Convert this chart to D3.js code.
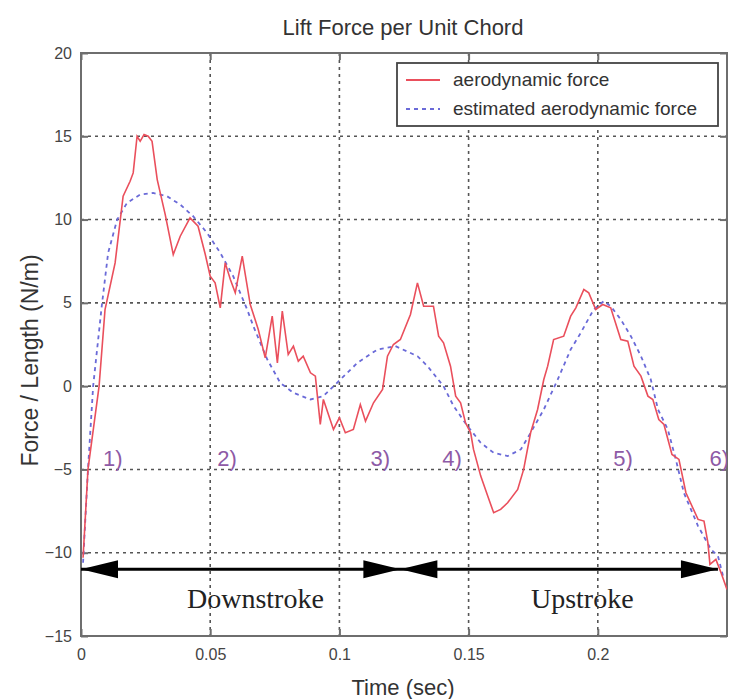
<!DOCTYPE html>
<html>
<head>
<meta charset="utf-8">
<script src="https://cdn.jsdelivr.net/npm/d3@7"></script>
<style>
  body { margin: 0; background: #fff; }
  svg text { font-family: "Liberation Sans", Arial, sans-serif; }
</style>
</head>
<body>
<div id="chart"></div>
<script>
// data ---------------------------------------------------
var aeroTime = [0.0008, 0.0027, 0.0070, 0.0093, 0.0132, 0.0163, 0.0190, 0.0202, 0.0217, 0.0229, 0.0244, 0.0260, 0.0275, 0.0295,
  0.0326, 0.0357, 0.0384, 0.0422, 0.0453, 0.0481, 0.0500, 0.0519, 0.0539, 0.0558, 0.0578, 0.0597, 0.0624, 0.0655, 0.0686,
  0.0713, 0.0740, 0.0760, 0.0779, 0.0802, 0.0822, 0.0841, 0.0860, 0.0888, 0.0907, 0.0926, 0.0938, 0.0977, 0.1000, 0.1023,
  0.1054, 0.1081, 0.1101, 0.1132, 0.1167, 0.1186, 0.1209, 0.1236, 0.1275, 0.1302, 0.1326, 0.1364, 0.1384, 0.1403, 0.1430,
  0.1450, 0.1469, 0.1488, 0.1508, 0.1519, 0.1547, 0.1574, 0.1597, 0.1624, 0.1651, 0.1690, 0.1713, 0.1740, 0.1767, 0.1791,
  0.1806, 0.1829, 0.1868, 0.1895, 0.1915, 0.1946, 0.1965, 0.1992, 0.2019, 0.2050, 0.2089, 0.2116, 0.2140, 0.2167, 0.2194,
  0.2213, 0.2236, 0.2256, 0.2287, 0.2314, 0.2341, 0.2388, 0.2411, 0.2426, 0.2434, 0.2457, 0.2477, 0.2500];
var aeroForce = [-10.3, -5.0, 0.0, 4.6, 7.4, 11.4, 12.3, 12.8, 15.0, 14.7, 15.1, 15.0, 14.7, 12.4,
  10.3, 7.9, 9.0, 10.1, 9.6, 7.9, 6.6, 6.2, 4.7, 7.4, 6.4, 5.6, 7.8, 4.9, 3.4,
  1.7, 4.2, 1.4, 4.5, 1.9, 2.4, 1.5, 1.8, 0.8, 0.6, -2.3, -0.8, -2.6, -1.9, -2.8,
  -2.6, -1.1, -2.1, -1.0, -0.2, 1.8, 2.5, 2.8, 4.3, 6.2, 4.8, 4.8, 3.0, 2.6, 1.2,
  -0.6, -1.0, -2.2, -2.8, -3.8, -5.4, -6.6, -7.6, -7.4, -7.0, -6.2, -5.0, -2.8, -1.4, 0.4,
  1.2, 2.8, 3.0, 4.2, 4.7, 5.8, 5.6, 4.6, 4.9, 4.7, 2.8, 2.7, 1.2, 0.6, -0.6,
  -0.8, -2.0, -2.3, -4.1, -4.4, -6.4, -8.0, -8.1, -9.4, -10.7, -10.4, -11.2, -12.2];

var estTime = [0.0008, 0.0027, 0.0047, 0.0081, 0.0105, 0.0140, 0.0178, 0.0229, 0.0279, 0.0333, 0.0384, 0.0434, 0.0488,
  0.0539, 0.0589, 0.0643, 0.0667, 0.0721, 0.0771, 0.0822, 0.0888, 0.0938, 0.1004, 0.1070, 0.1147, 0.1217, 0.1302,
  0.1341, 0.1403, 0.1442, 0.1496, 0.1547, 0.1597, 0.1651, 0.1702, 0.1740, 0.1791, 0.1845, 0.1895, 0.1934, 0.1984,
  0.2023, 0.2050, 0.2089, 0.2128, 0.2167, 0.2205, 0.2233, 0.2271, 0.2302, 0.2333, 0.2388, 0.2438, 0.2465, 0.2488];
var estForce = [-10.6, -5.0, 0.0, 4.9, 8.0, 10.0, 11.0, 11.5, 11.6, 11.4, 10.9, 10.2, 9.2,
  8.0, 6.6, 4.6, 3.6, 1.6, 0.2, -0.4, -0.8, -0.6, 0.4, 1.4, 2.2, 2.4, 1.8,
  1.2, 0.0, -1.2, -2.4, -3.4, -4.0, -4.2, -3.8, -2.8, -1.4, 0.4, 2.2, 3.2, 4.6,
  5.1, 4.8, 4.0, 3.0, 1.8, 0.4, -1.4, -2.6, -4.4, -6.4, -8.4, -9.8, -10.2, -11.6];

var xTicks = [0, 0.05, 0.1, 0.15, 0.2];
var xTickLabels = ["0", "0.05", "0.1", "0.15", "0.2"];
var yTicks = [-15, -10, -5, 0, 5, 10, 15, 20];

var phaseLabels = ["1)", "2)", "3)", "4)", "5)", "6)"];
var phaseTimes = [0.0085, 0.0527, 0.112, 0.1398, 0.206, 0.2432];
var phaseForce = -4.8;

var strokeLabels = ["Downstroke", "Upstroke"];
var strokeLabelTimes = [0.0675, 0.194];
var strokeLabelForce = -13.3;
var arrowForce = -11;
var arrowStart = 0, arrowMid = 0.1236, arrowEnd = 0.2465;

var seriesNames = ["aerodynamic force", "estimated aerodynamic force"];

// chart -----------------------------------------------
var width = 734, height = 699;
var plot = { left: 81, right: 727, top: 53, bottom: 636 };

var x = d3.scaleLinear().domain([0, 0.25]).range([plot.left, plot.right]);
var y = d3.scaleLinear().domain([-15, 20]).range([plot.bottom, plot.top]);

var svg = d3.select('#chart').append('svg')
  .attr('width', width)
  .attr('height', height);

svg.append('defs').append('clipPath').attr('id', 'clip')
  .append('rect')
  .attr('x', plot.left).attr('y', plot.top)
  .attr('width', plot.right - plot.left)
  .attr('height', plot.bottom - plot.top);

// grid
var grid = svg.append('g').attr('class', 'grid')
  .attr('stroke', '#555').attr('stroke-width', 1.6).attr('stroke-dasharray', '3,4');
grid.selectAll('.gx').data(xTicks.slice(1)).enter().append('line')
  .attr('x1', function (d) { return x(d); }).attr('x2', function (d) { return x(d); })
  .attr('y1', plot.top).attr('y2', plot.bottom);
grid.selectAll('.gy').data(yTicks.slice(1, -1)).enter().append('line')
  .attr('y1', function (d) { return y(d); }).attr('y2', function (d) { return y(d); })
  .attr('x1', plot.left).attr('x2', plot.right);

// axes
var axisColor = '#6e6e6e';
function styleAxis(g) {
  g.select('.domain').remove();
  g.selectAll('.tick line').attr('stroke', axisColor).attr('stroke-width', 2);
  g.selectAll('.tick text').attr('fill', '#444').style('font-size', '16px');
}
svg.append('g')
  .attr('transform', 'translate(0,' + plot.bottom + ')')
  .call(d3.axisBottom(x).tickValues(xTicks).tickSize(-7).tickPadding(13)
    .tickFormat(function (d, i) { return xTickLabels[i]; }))
  .call(styleAxis);
svg.append('g')
  .attr('transform', 'translate(0,' + plot.top + ')')
  .call(d3.axisTop(x).tickValues(xTicks).tickSize(-7).tickFormat(''))
  .call(styleAxis);
svg.append('g')
  .attr('transform', 'translate(' + plot.left + ',0)')
  .call(d3.axisLeft(y).tickValues(yTicks).tickSize(-7).tickPadding(9))
  .call(styleAxis);
svg.append('g')
  .attr('transform', 'translate(' + plot.right + ',0)')
  .call(d3.axisRight(y).tickValues(yTicks).tickSize(-7).tickFormat(''))
  .call(styleAxis);

svg.append('rect')
  .attr('x', plot.left).attr('y', plot.top)
  .attr('width', plot.right - plot.left).attr('height', plot.bottom - plot.top)
  .attr('fill', 'none').attr('stroke', axisColor).attr('stroke-width', 2);

// curves
var line = d3.line()
  .x(function (d) { return x(d[0]); })
  .y(function (d) { return y(d[1]); });

var curves = svg.append('g').attr('clip-path', 'url(#clip)');
curves.append('path')
  .datum(d3.zip(estTime, estForce))
  .attr('d', line)
  .attr('fill', 'none').attr('stroke', '#6a6ad8').attr('stroke-width', 1.8)
  .attr('stroke-dasharray', '4,4');
curves.append('path')
  .datum(d3.zip(aeroTime, aeroForce))
  .attr('d', line)
  .attr('fill', 'none').attr('stroke', '#ea4f5c').attr('stroke-width', 1.6);

// phase labels
curves.selectAll('.phase').data(phaseLabels).enter().append('text')
  .attr('x', function (d, i) { return x(phaseTimes[i]); })
  .attr('y', y(phaseForce))
  .attr('fill', '#8e5aa6')
  .style('font-size', '22px')
  .text(function (d) { return d; });

// stroke arrows
var ay = y(arrowForce);
var headLen = 37, headHalf = 9;
svg.append('line')
  .attr('x1', x(arrowStart)).attr('x2', x(arrowEnd))
  .attr('y1', ay).attr('y2', ay)
  .attr('stroke', '#000').attr('stroke-width', 3);
function head(tip, dir) {
  var base = tip + dir * headLen;
  return 'M' + tip + ',' + ay + 'L' + base + ',' + (ay - headHalf) + 'L' + base + ',' + (ay + headHalf) + 'Z';
}
svg.append('g').selectAll('path')
  .data([[x(arrowStart), 1], [x(arrowMid), -1], [x(arrowMid), 1], [x(arrowEnd), -1]])
  .enter().append('path')
  .attr('d', function (d) { return head(d[0], d[1]); })
  .attr('fill', '#000');

svg.selectAll('.stroke').data(strokeLabels).enter().append('text')
  .attr('x', function (d, i) { return x(strokeLabelTimes[i]); })
  .attr('y', y(strokeLabelForce))
  .attr('text-anchor', 'middle')
  .attr('fill', '#222')
  .style('font-family', '"Liberation Serif", "Times New Roman", serif')
  .style('font-size', '28px')
  .text(function (d) { return d; });

// legend
var legend = svg.append('g');
legend.append('rect')
  .attr('x', 397).attr('y', 63).attr('width', 321).attr('height', 63)
  .attr('fill', '#fff').attr('stroke', '#444').attr('stroke-width', 1.8);
var legendStyles = [
  { stroke: '#ea4f5c', dash: null },
  { stroke: '#6a6ad8', dash: '4,4' }
];
legend.selectAll('.item').data(seriesNames).enter().append('g')
  .each(function (d, i) {
    var gi = d3.select(this);
    var ly = 80 + i * 29;
    gi.append('line')
      .attr('x1', 406).attr('x2', 440).attr('y1', ly).attr('y2', ly)
      .attr('stroke', legendStyles[i].stroke).attr('stroke-width', 1.8)
      .attr('stroke-dasharray', legendStyles[i].dash);
    gi.append('text')
      .attr('x', 453).attr('y', ly + 6)
      .attr('fill', '#333')
      .style('font-size', '19px')
      .text(d);
  });

// titles
svg.append('text')
  .attr('x', 403).attr('y', 35)
  .attr('text-anchor', 'middle').attr('fill', '#333')
  .style('font-size', '22px')
  .text('Lift Force per Unit Chord');
svg.append('text')
  .attr('x', 403).attr('y', 695)
  .attr('text-anchor', 'middle').attr('fill', '#333')
  .style('font-size', '22px')
  .text('Time (sec)');
svg.append('text')
  .attr('transform', 'translate(38,' + ((plot.top + plot.bottom) / 2 + 16) + ') rotate(-90)')
  .attr('text-anchor', 'middle').attr('fill', '#333')
  .style('font-size', '23px')
  .text('Force / Length (N/m)');
</script>
</body>
</html>
